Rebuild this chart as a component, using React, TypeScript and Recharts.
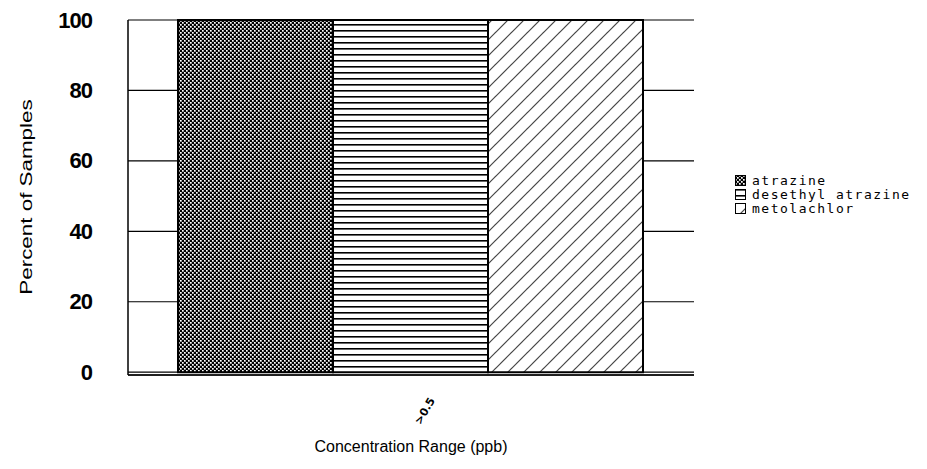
import React from 'react';
import { BarChart, Bar, XAxis, YAxis, CartesianGrid } from 'recharts';

const categories = ['>0.5'];
const atrazine = [100];
const desethylAtrazine = [100];
const metolachlor = [100];
const yTicks = [0, 20, 40, 60, 80, 100];

const data = categories.map((range, i) => ({
  range,
  atrazine: atrazine[i],
  desethyl: desethylAtrazine[i],
  metolachlor: metolachlor[i],
}));

const legendItems = [
  { label: 'atrazine', fill: 'url(#checker)' },
  { label: 'desethyl atrazine', fill: 'url(#hlines)' },
  { label: 'metolachlor', fill: 'url(#diag)' },
];

function XTick({ x, y, payload }: any) {
  const cx = x + 14;
  const cy = y + 28;
  return (
    <text
      x={cx}
      y={cy}
      transform={`rotate(-60 ${cx} ${cy})`}
      textAnchor="middle"
      dominantBaseline="central"
      fontSize={11}
      fontFamily="DejaVu Sans"
      fontWeight="bold"
      fill="#000"
    >
      {payload.value}
    </text>
  );
}

function YTick({ x, y, payload }: any) {
  return (
    <text
      x={x}
      y={y}
      textAnchor="end"
      dominantBaseline="central"
      fontSize={22}
      fontWeight="bold"
      fontFamily="Liberation Sans"
      letterSpacing={-1}
      fill="#000"
    >
      {payload.value}
    </text>
  );
}

function YTitle() {
  return (
    <text
      transform="translate(26 197) rotate(-90) scale(1.4 1)"
      textAnchor="middle"
      dominantBaseline="central"
      fontSize={16}
      fontFamily="Liberation Sans"
      fill="#000"
    >
      Percent of Samples
    </text>
  );
}

export default function App() {
  return (
    <div style={{ position: 'absolute', left: 0, top: 0, width: 927, height: 469, background: '#fff' }}>
      <BarChart
        width={927}
        height={469}
        data={data}
        margin={{ top: 20, right: 233, left: 0, bottom: 0 }}
        barCategoryGap={50}
        barGap={0}
      >
        <defs>
          <pattern id="checker" patternUnits="userSpaceOnUse" width="4" height="4">
            <rect width="4" height="4" fill="#000" />
            <rect x="0" y="0" width="1.7" height="1.7" fill="#fff" />
            <rect x="2" y="2" width="1.7" height="1.7" fill="#fff" />
          </pattern>
          <pattern id="hlines" patternUnits="userSpaceOnUse" width="6" height="6">
            <rect width="6" height="6" fill="#fff" />
            <rect x="0" y="0" width="6" height="1.6" fill="#000" />
          </pattern>
          <pattern id="diag" patternUnits="userSpaceOnUse" width="16" height="16">
            <rect width="16" height="16" fill="#fff" />
            <line x1="0" y1="16" x2="16" y2="0" stroke="#444" strokeWidth="1.2" />
            <line x1="-4" y1="4" x2="4" y2="-4" stroke="#444" strokeWidth="1.2" />
            <line x1="12" y1="20" x2="20" y2="12" stroke="#444" strokeWidth="1.2" />
          </pattern>
        </defs>
        <CartesianGrid vertical={false} stroke="#000" strokeWidth={1.2} />
        <XAxis
          dataKey="range"
          height={94}
          axisLine={{ stroke: '#000', strokeWidth: 1.5 }}
          tickLine={false}
          tick={<XTick />}
          label={{
            value: 'Concentration Range (ppb)',
            position: 'center',
            dy: 24,
            fontSize: 16,
            fontFamily: 'Liberation Sans',
            fill: '#000',
          }}
        />
        <YAxis
          width={128}
          domain={[-0.8, 100]}
          ticks={yTicks}
          interval={0}
          axisLine={{ stroke: '#000', strokeWidth: 1.5 }}
          tickLine={false}
          tickMargin={30}
          tick={<YTick />}
          label={{ content: <YTitle /> }}
        />
        <YAxis
          yAxisId="right"
          orientation="right"
          width={0}
          domain={[-0.8, 100]}
          axisLine={{ stroke: '#000', strokeWidth: 1.5 }}
          tickLine={false}
          tick={false}
        />
        <Bar dataKey="atrazine" fill="url(#checker)" stroke="#000" strokeWidth={2} isAnimationActive={false} />
        <Bar dataKey="desethyl" fill="url(#hlines)" stroke="#000" strokeWidth={2} isAnimationActive={false} />
        <Bar dataKey="metolachlor" fill="url(#diag)" stroke="#000" strokeWidth={2} isAnimationActive={false} />
      </BarChart>
      <div style={{ position: 'absolute', left: 735, top: 174, fontFamily: 'DejaVu Sans Mono', fontSize: 13, letterSpacing: 1.5, lineHeight: '14px' }}>
        {legendItems.map((item) => (
          <div key={item.label} style={{ display: 'flex', alignItems: 'center', height: 14, whiteSpace: 'nowrap' }}>
            <svg width={12} height={12} style={{ marginRight: 5 }}>
              <rect x={0.5} y={0.5} width={10} height={10} fill={item.fill} stroke="#000" strokeWidth={1} />
            </svg>
            <span>{item.label}</span>
          </div>
        ))}
      </div>
    </div>
  );
}
